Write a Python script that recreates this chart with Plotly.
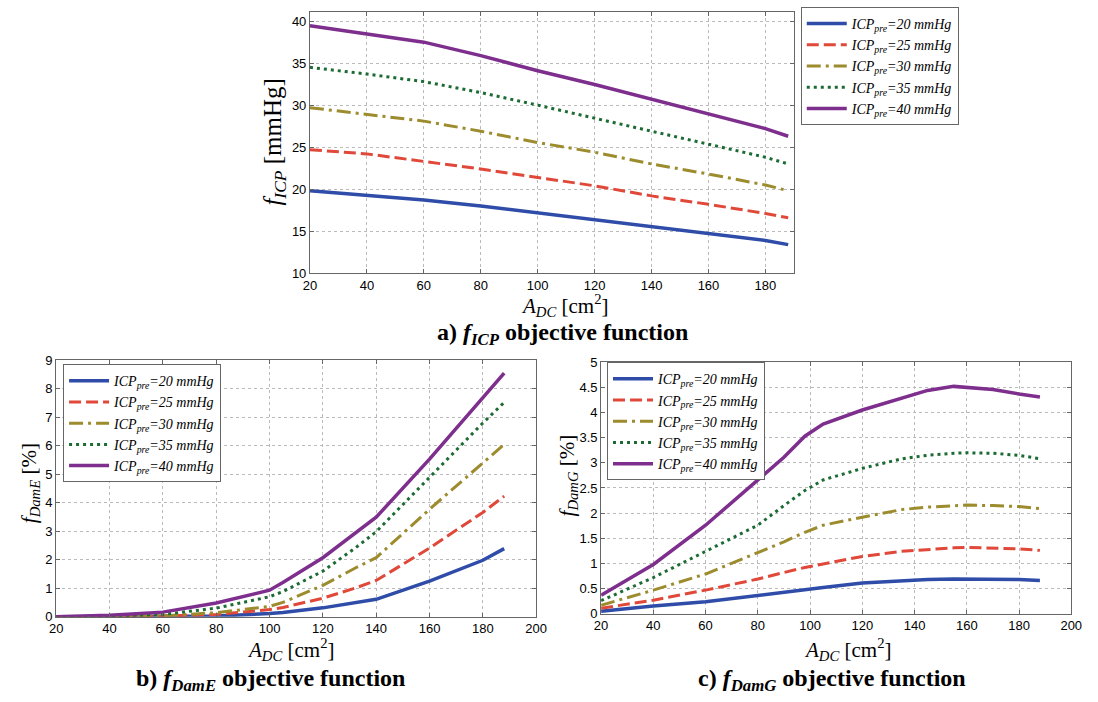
import plotly.graph_objects as go

W, H = 1098, 702

# ---------------- data ----------------
series_names = ["20", "25", "30", "35", "40"]

x_a = [20, 40, 60, 80, 100, 120, 140, 160, 180, 188]
f_icp = {
    "20": [19.8, 19.3, 18.7, 18.0, 17.2, 16.4, 15.6, 14.7, 13.9, 13.4],
    "25": [24.7, 24.2, 23.3, 22.4, 21.4, 20.4, 19.2, 18.2, 17.1, 16.6],
    "30": [29.7, 28.9, 28.1, 26.9, 25.55, 24.4, 23.0, 21.8, 20.5, 19.8],
    "35": [34.5, 33.7, 32.8, 31.5, 30.0, 28.45, 26.9, 25.35, 23.8, 23.0],
    "40": [39.45, 38.5, 37.5, 35.9, 34.1, 32.45, 30.7, 28.85, 27.2, 26.3],
}

x_b = [20, 40, 60, 80, 100, 105, 120, 132, 140, 160, 180, 188]
f_dame = {
    "20": [0, 0, 0.01, 0.02, 0.11, 0.15, 0.31, 0.5, 0.61, 1.25, 1.98, 2.39],
    "25": [0, 0, 0.02, 0.08, 0.25, 0.32, 0.65, 1.0, 1.27, 2.41, 3.66, 4.23],
    "30": [0, 0.01, 0.03, 0.14, 0.36, 0.5, 1.1, 1.7, 2.07, 3.77, 5.42, 6.05],
    "35": [0, 0.02, 0.08, 0.3, 0.7, 0.88, 1.6, 2.4, 2.98, 4.9, 6.8, 7.52],
    "40": [0, 0.05, 0.16, 0.48, 0.93, 1.2, 2.07, 2.92, 3.49, 5.53, 7.66, 8.55],
}

x_c = [20, 40, 60, 80, 90, 98, 105, 120, 135, 145, 155, 160, 170, 180, 188]
f_damg = {
    "20": [0.05, 0.155, 0.24, 0.37, 0.43, 0.47, 0.52, 0.61, 0.66, 0.68, 0.69, 0.69, 0.69, 0.68, 0.66],
    "25": [0.11, 0.27, 0.47, 0.69, 0.82, 0.92, 0.99, 1.14, 1.24, 1.28, 1.31, 1.32, 1.31, 1.29, 1.26],
    "30": [0.17, 0.47, 0.79, 1.21, 1.43, 1.62, 1.76, 1.92, 2.07, 2.12, 2.15, 2.16, 2.15, 2.13, 2.09],
    "35": [0.26, 0.72, 1.24, 1.76, 2.15, 2.45, 2.66, 2.89, 3.08, 3.15, 3.19, 3.2, 3.19, 3.15, 3.08],
    "40": [0.37, 0.98, 1.76, 2.66, 3.11, 3.53, 3.77, 4.05, 4.29, 4.44, 4.52, 4.5, 4.46, 4.37, 4.31],
}

# ---------------- styles ----------------
colors = {"20": "#2F4DA8", "25": "#E0483A", "30": "#9C8C2E", "35": "#1B6B32", "40": "#7E2F8E"}
dashes = {"20": "solid", "25": "12px,5px", "30": "14px,5px,3px,5px", "35": "3px,4px", "40": "solid"}
widths = {"20": 3.5, "25": 3, "30": 3, "35": 3, "40": 3.5}

def label(v):
    return f"<i>ICP</i><sub><i>pre</i></sub><i>=</i><i>{v} mmHg</i>"

fig = go.Figure()

panels = [
    (x_a, f_icp, "x", "y", "legend"),
    (x_b, f_dame, "x2", "y2", "legend2"),
    (x_c, f_damg, "x3", "y3", "legend3"),
]
for xs, data, xa, ya, lg in panels:
    for s in series_names:
        fig.add_trace(go.Scatter(
            x=xs, y=data[s], mode="lines", name=label(s),
            line=dict(color=colors[s], width=widths[s], dash=dashes[s]),
            xaxis=xa, yaxis=ya, legend=lg,
        ))

def dom_x(l, r):
    return [l / W, r / W]

def dom_y(t, b):
    return [1 - b / H, 1 - t / H]

tickfont = dict(family="Liberation Sans, Arial", size=13, color="black")
axis_common = dict(
    showline=True, mirror="allticks", linecolor="#666666", linewidth=1,
    ticks="inside", ticklen=4, tickcolor="#666666",
    showgrid=True, gridcolor="#BBBBBB", griddash="dot", gridwidth=1,
    zeroline=False, tickfont=tickfont,
)

legend_common = dict(
    bgcolor="white", bordercolor="#666666", borderwidth=1,
    font=dict(family="Liberation Serif, Times New Roman", size=14, color="black"),
    xanchor="left", yanchor="top", tracegroupgap=0, itemwidth=40,
)

fig.update_layout(
    width=W, height=H,
    margin=dict(l=0, r=0, t=0, b=0),
    paper_bgcolor="white", plot_bgcolor="white",
    showlegend=True,
    xaxis=dict(domain=dom_x(308, 800), range=[20, 190], dtick=20, anchor="y", **axis_common),
    yaxis=dict(domain=dom_y(5, 272), range=[10, 41.1], dtick=5, anchor="x", **axis_common),
    xaxis2=dict(domain=dom_x(50, 538), range=[20, 200], dtick=20, anchor="y2", **axis_common),
    yaxis2=dict(domain=dom_y(361, 623), range=[0, 9], dtick=1, anchor="x2", **axis_common),
    xaxis3=dict(domain=dom_x(604, 1082), range=[20, 200], dtick=20, anchor="y3", **axis_common),
    yaxis3=dict(domain=dom_y(363, 620), range=[0, 5], dtick=0.5, anchor="x3", **axis_common),
    legend=dict(x=807 / W, y=1.0, **legend_common),
    legend2=dict(x=57 / W, y=1 - 365 / H, **legend_common),
    legend3=dict(x=610 / W, y=1 - 363 / H, **legend_common),
)

serif = "Liberation Serif, Times New Roman"

def ann(text, px, py, size, angle=0):
    fig.add_annotation(
        text=text, x=px / W, y=1 - py / H, xref="paper", yref="paper",
        showarrow=False, textangle=angle, xanchor="center", yanchor="middle",
        font=dict(family=serif, size=size, color="black"),
    )

adc = "<i>A</i><sub><i>DC</i></sub> [cm<sup>2</sup>]"
ann(adc, 567, 305, 21)
ann(adc, 288, 657, 21)
ann(adc, 854, 657, 21)

ann("<i>f</i><sub><i>ICP</i></sub> [mmHg]", 271, 138, 25, angle=-90)
ann("<i>f</i><sub><i>DamE</i></sub> [%]", 23, 487, 21, angle=-90)
ann("<i>f</i><sub><i>DamG</i></sub> [%]", 570, 479, 21, angle=-90)

ann("<b>a) <i>f</i><sub><i>ICP</i></sub> objective function</b>", 565, 334, 24)
ann("<b>b) <i>f</i><sub><i>DamE</i></sub> objective function</b>", 268, 688, 24)
ann("<b>c) <i>f</i><sub><i>DamG</i></sub> objective function</b>", 839, 688, 24)

fig.write_html("out.html")
